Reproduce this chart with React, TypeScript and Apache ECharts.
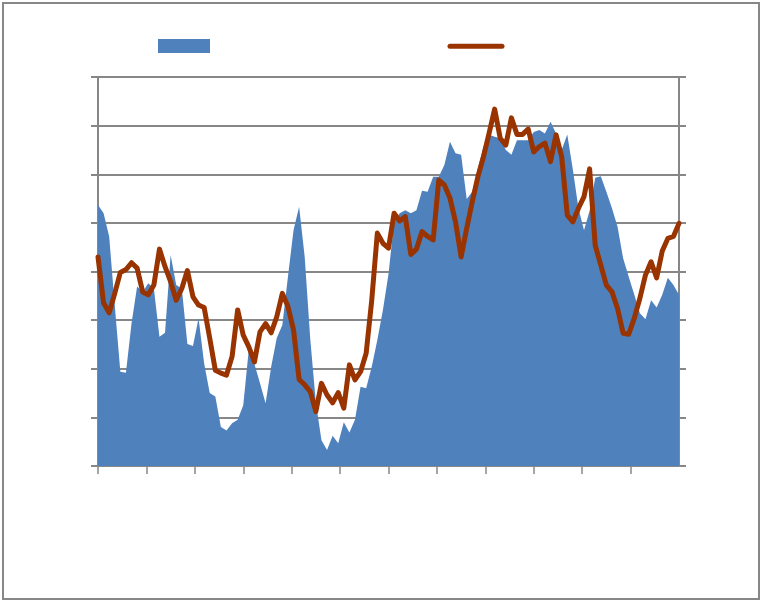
import React, { useEffect, useRef } from "react";
import * as echarts from "echarts";

// Period index (x categories); no labels are shown in the reference
const periods: string[] = Array.from({ length: 105 }, (_, i) => String(i + 1));

// Area series (blue)
const areaValues: number[] = [
  53.7, 52.0, 47.2, 33.0, 19.4, 19.2, 29.3, 36.9, 35.8, 37.6,
  36.5, 26.6, 27.4, 43.4, 37.2, 36.5, 25.1, 24.7, 30.4, 21.1,
  15.0, 14.3, 8.0, 7.3, 8.8, 9.5, 12.5, 24.0, 21.0, 17.0,
  12.9, 20.4, 26.3, 29.0, 38.9, 48.5, 53.3, 43.0, 26.0, 13.0,
  5.3, 3.3, 6.2, 4.7, 9.0, 6.9, 9.5, 16.3, 16.0, 20.4,
  25.9, 32.1, 39.5, 50.2, 52.0, 52.6, 52.0, 52.6, 56.6, 56.4,
  59.5, 59.5, 61.9, 66.7, 64.3, 64.0, 54.9, 56.4, 61.2, 65.7,
  68.1, 67.7, 67.4, 65.0, 64.0, 67.0, 67.0, 67.0, 68.7, 69.1,
  68.4, 70.8, 68.4, 65.0, 68.2, 61.0, 53.0, 48.5, 52.5, 59.3,
  59.6, 56.4, 53.0, 49.2, 42.7, 38.9, 35.2, 31.4, 30.2, 34.1,
  32.6, 35.2, 38.7, 37.2, 35.2,
];

// Line series (brown)
const lineValues: number[] = [
  43.0, 33.5, 31.5, 35.5, 39.8, 40.4, 41.8, 40.7, 35.8, 35.2,
  37.2, 44.6, 41.0, 37.9, 34.1, 36.5, 40.2, 34.8, 33.1, 32.6,
  26.3, 19.7, 19.1, 18.7, 22.5, 32.1, 26.9, 24.5, 21.4, 27.6,
  29.3, 27.4, 30.7, 35.5, 32.8, 28.0, 17.8, 16.7, 15.3, 11.2,
  17.0, 14.6, 13.0, 15.1, 11.9, 20.8, 17.7, 19.4, 23.2, 34.1,
  47.9, 45.8, 44.8, 52.0, 50.4, 51.3, 43.5, 44.6, 48.2, 47.2,
  46.5, 58.8, 57.8, 55.1, 50.2, 43.0, 48.9, 54.4, 59.5, 63.6,
  68.4, 73.4, 67.4, 66.0, 71.6, 68.2, 68.2, 69.3, 64.6, 65.7,
  66.4, 62.6, 68.1, 63.6, 51.6, 50.2, 53.0, 55.4, 61.1, 45.4,
  41.3, 37.2, 35.8, 32.4, 27.3, 27.1, 30.4, 34.5, 39.3, 42.0,
  38.7, 44.2, 46.8, 47.2, 49.9,
];

// Major x tick positions (12 equal sections, last edge has no tick)
const xTickValues: number[] = [0, 1, 2, 3, 4, 5, 6, 7, 8, 9, 10, 11];

const GRAY = "#878787";
const BLUE = "#4F81BD";
const BROWN = "#993300";

export default function App() {
  const ref = useRef<HTMLDivElement>(null);

  useEffect(() => {
    document.body.style.margin = "0";
    if (!ref.current) return;
    const chart = echarts.init(ref.current, undefined, { renderer: "svg" });
    chart.setOption({
      animation: false,
      backgroundColor: "#ffffff",
      grid: { left: 98, right: 82, top: 77, bottom: 135, containLabel: false },
      xAxis: [
        {
          type: "category",
          data: periods,
          boundaryGap: false,
          axisLine: { show: true, lineStyle: { color: GRAY, width: 2 } },
          axisTick: { show: false },
          axisLabel: { show: false },
          splitLine: { show: false },
        },
        {
          type: "value",
          min: 0,
          max: 12,
          interval: 1,
          position: "bottom",
          axisLine: { show: false },
          axisTick: {
            show: true,
            length: 8,
            inside: false,
            customValues: xTickValues,
            lineStyle: { color: GRAY, width: 1.5 },
          },
          axisLabel: { show: false },
          splitLine: { show: false },
        },
      ],
      yAxis: [
        {
          type: "value",
          min: 0,
          max: 80,
          interval: 10,
          position: "left",
          axisLine: { show: true, lineStyle: { color: GRAY, width: 2 } },
          axisTick: { show: true, length: 7, inside: false, lineStyle: { color: GRAY, width: 2 } },
          axisLabel: { show: false },
          splitLine: { show: true, lineStyle: { color: GRAY, width: 2 } },
        },
        {
          type: "value",
          min: 0,
          max: 80,
          interval: 10,
          position: "right",
          axisLine: { show: true, lineStyle: { color: GRAY, width: 2 } },
          axisTick: { show: true, length: 7, inside: false, lineStyle: { color: GRAY, width: 2 } },
          axisLabel: { show: false },
          splitLine: { show: false },
        },
      ],
      series: [
        {
          name: "Area",
          type: "line",
          xAxisIndex: 0,
          yAxisIndex: 0,
          data: areaValues,
          showSymbol: false,
          symbol: "none",
          lineStyle: { width: 0, color: BLUE },
          areaStyle: { color: BLUE, opacity: 1 },
          itemStyle: { color: BLUE },
          z: 2,
        },
        {
          name: "Line",
          type: "line",
          xAxisIndex: 0,
          yAxisIndex: 0,
          data: lineValues,
          showSymbol: false,
          symbol: "none",
          lineStyle: { width: 5, color: BROWN, join: "round", cap: "round" },
          itemStyle: { color: BROWN },
          z: 3,
        },
      ],
      graphic: [
        {
          type: "rect",
          shape: { x: 3, y: 3, width: 756, height: 596 },
          style: { fill: "none", stroke: GRAY, lineWidth: 2 },
          silent: true,
        },
        {
          type: "rect",
          shape: { x: 158, y: 39, width: 52, height: 14 },
          style: { fill: BLUE },
          silent: true,
        },
        {
          type: "line",
          shape: { x1: 450, y1: 46.3, x2: 502, y2: 46.3 },
          style: { stroke: BROWN, lineWidth: 5, lineCap: "round" },
          silent: true,
        },
      ],
    });
    return () => chart.dispose();
  }, []);

  return <div ref={ref} style={{ width: 761, height: 601 }} />;
}
